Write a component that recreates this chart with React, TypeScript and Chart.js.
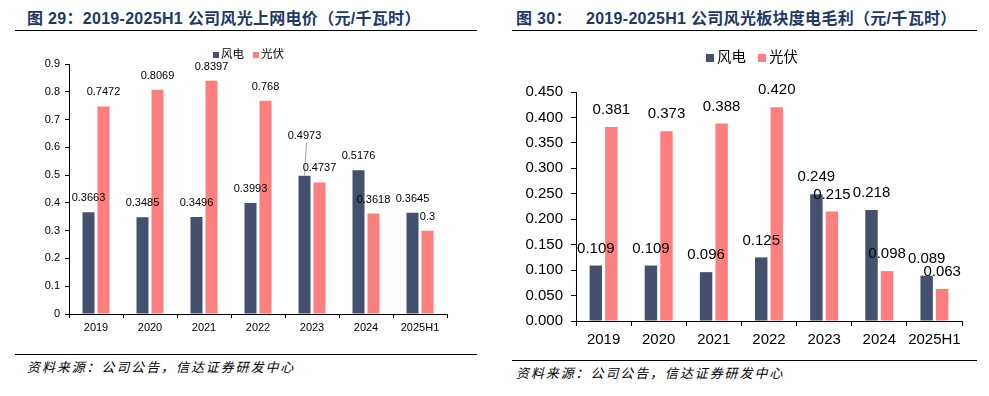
import React, { useEffect, useRef } from 'react';
import { Chart, registerables } from 'chart.js';

Chart.register(...registerables);

// ---------- data ----------
const categories = ['2019', '2020', '2021', '2022', '2023', '2024', '2025H1'];
const seriesNames = ['风电', '光伏'];
const windPrice = [0.3663, 0.3485, 0.3496, 0.3993, 0.4973, 0.5176, 0.3645];
const solarPrice = [0.7472, 0.8069, 0.8397, 0.768, 0.4737, 0.3618, 0.3];
const windMargin = [0.109, 0.109, 0.096, 0.125, 0.249, 0.218, 0.089];
const solarMargin = [0.381, 0.373, 0.388, 0.42, 0.215, 0.098, 0.063];
const priceTicks = [0, 0.1, 0.2, 0.3, 0.4, 0.5, 0.6, 0.7, 0.8, 0.9];
const marginTicks = [0, 0.05, 0.1, 0.15, 0.2, 0.25, 0.3, 0.35, 0.4, 0.45];

const leftTitle = '图 29：2019-2025H1 公司风光上网电价（元/千瓦时）';
const rightTitle = '图 30：\u00a0\u00a0 2019-2025H1 公司风光板块度电毛利（元/千瓦时）';
const sourceText = '资料来源：公司公告，信达证券研发中心';

// ---------- styles ----------
const NAVY = '#45506F';
const PINK = '#FF7F7F';
const FONT = '"Liberation Sans", Arial, "Noto Sans CJK SC", sans-serif';
const TITLE_COLOR = '#1F3864';

type Panel = {
  left: number; top: number; w: number; h: number;
  area: { l: number; r: number; t: number; b: number };
  wind: number[]; solar: number[]; ticks: number[];
  tickFmt: (v: number) => string; labelFmt: (v: number) => string;
  tickSize: number; labelSize: number; labelGap: number;
  yPad: number; xPad: number; tickLen: number;
  cat: number; bar: number;
  legend: { x: number; y: number; size: number; box: number; textGap: number; itemGap: number };
  lifts: { dataset: number; index: number; px: number }[];
};

function makeLabelPlugin(p: Panel) {
  return {
    id: 'valueLabels',
    afterDatasetsDraw(chart: any) {
      const ctx = chart.ctx;
      ctx.save();
      ctx.font = `${p.labelSize}px ${FONT}`;
      ctx.fillStyle = '#000';
      ctx.textAlign = 'center';
      ctx.textBaseline = 'middle';
      chart.data.datasets.forEach((ds: any, di: number) => {
        const meta = chart.getDatasetMeta(di);
        meta.data.forEach((bar: any, i: number) => {
          const lift = p.lifts.find((l) => l.dataset === di && l.index === i);
          const extra = lift ? lift.px : 0;
          const y = bar.y - p.labelGap - extra;
          ctx.fillText(p.labelFmt(ds.data[i]), bar.x, y);
          if (lift) {
            ctx.strokeStyle = '#A6A6A6';
            ctx.lineWidth = 1;
            ctx.beginPath();
            ctx.moveTo(bar.x + 2, y + p.labelSize / 2 + 1);
            ctx.lineTo(bar.x, bar.y);
            ctx.stroke();
          }
        });
      });
      ctx.restore();
    },
  };
}

function makeLegendPlugin(p: Panel) {
  return {
    id: 'miniLegend',
    afterDraw(chart: any) {
      const ctx = chart.ctx;
      const L = p.legend;
      ctx.save();
      ctx.font = `${L.size}px ${FONT}`;
      ctx.textBaseline = 'middle';
      ctx.textAlign = 'left';
      let x = L.x;
      chart.data.datasets.forEach((ds: any) => {
        ctx.fillStyle = ds.backgroundColor;
        ctx.fillRect(x, L.y - L.box / 2, L.box, L.box);
        x += L.box + L.textGap;
        ctx.fillStyle = '#000';
        ctx.fillText(ds.label, x, L.y);
        x += ctx.measureText(ds.label).width + L.itemGap;
      });
      ctx.restore();
    },
  };
}

function BarPanel({ p }: { p: Panel }) {
  const ref = useRef<HTMLCanvasElement>(null);
  useEffect(() => {
    const slot = (p.bar / 0.8) * 2;
    const catPct = slot / p.cat;
    const chart = new Chart(ref.current as HTMLCanvasElement, {
      type: 'bar',
      data: {
        labels: categories,
        datasets: [
          { label: seriesNames[0], data: p.wind, backgroundColor: NAVY, categoryPercentage: catPct, barPercentage: 0.8 },
          { label: seriesNames[1], data: p.solar, backgroundColor: PINK, categoryPercentage: catPct, barPercentage: 0.8 },
        ],
      },
      options: {
        responsive: false,
        animation: false,
        devicePixelRatio: 1,
        layout: { padding: { left: 0, top: p.area.t, right: p.w - p.area.r, bottom: 0 } },
        plugins: { legend: { display: false }, tooltip: { enabled: false } },
        scales: {
          x: {
            offset: true,
            grid: { display: true, offset: true, drawOnChartArea: false, drawTicks: true, tickLength: p.tickLen, color: '#000' },
            border: { display: true, color: '#000', width: 1 },
            ticks: { color: '#000', font: { family: FONT, size: p.tickSize }, padding: p.xPad, maxRotation: 0, autoSkip: false },
            afterFit: (s: any) => { s.height = p.h - p.area.b; },
          },
          y: {
            min: p.ticks[0],
            max: p.ticks[p.ticks.length - 1],
            afterBuildTicks: (s: any) => { s.ticks = p.ticks.map((v) => ({ value: v })); },
            grid: { display: true, drawOnChartArea: false, drawTicks: true, tickLength: p.tickLen, color: '#000' },
            border: { display: true, color: '#000', width: 1 },
            ticks: { color: '#000', font: { family: FONT, size: p.tickSize }, padding: p.yPad, callback: (v: any) => p.tickFmt(Number(v)) },
            afterFit: (s: any) => { s.width = p.area.l; },
          },
        },
      },
      plugins: [makeLabelPlugin(p), makeLegendPlugin(p)],
    } as any);
    return () => chart.destroy();
  }, []);
  return (
    <canvas
      ref={ref}
      width={p.w}
      height={p.h}
      style={{ position: 'absolute', left: p.left, top: p.top, width: p.w, height: p.h }}
    />
  );
}

const leftPanel: Panel = {
  left: 0, top: 40, w: 494, h: 305,
  area: { l: 69, r: 447, t: 24, b: 274 },
  wind: windPrice, solar: solarPrice, ticks: priceTicks,
  tickFmt: (v) => String(Number(v.toFixed(1))),
  labelFmt: (v) => String(v),
  tickSize: 11, labelSize: 11, labelGap: 14,
  yPad: 5, xPad: 3, tickLen: 4,
  cat: 54, bar: 12,
  legend: { x: 213, y: 15, size: 11.5, box: 6, textGap: 2, itemGap: 9 },
  lifts: [{ dataset: 0, index: 4, px: 26 }],
};

const rightPanel: Panel = {
  left: 494, top: 40, w: 495, h: 315,
  area: { l: 82, r: 468, t: 52, b: 281 },
  wind: windMargin, solar: solarMargin, ticks: marginTicks,
  tickFmt: (v) => v.toFixed(3),
  labelFmt: (v) => v.toFixed(3),
  tickSize: 15, labelSize: 15, labelGap: 17,
  yPad: 8, xPad: 5, tickLen: 5,
  cat: 55, bar: 12.4,
  legend: { x: 212, y: 18, size: 14.5, box: 8, textGap: 3, itemGap: 12 },
  lifts: [],
};

const titleStyle: React.CSSProperties = {
  position: 'absolute', top: 8, fontFamily: '"Liberation Sans", Arial, "Noto Sans CJK SC", sans-serif',
  fontWeight: 'bold', fontSize: 16, letterSpacing: 0.3, color: TITLE_COLOR, whiteSpace: 'pre', lineHeight: '22px',
};
const sourceStyle: React.CSSProperties = {
  position: 'absolute', fontFamily: '"Noto Sans CJK SC", sans-serif', fontStyle: 'italic',
  fontSize: 13, letterSpacing: 1.9, color: '#000', whiteSpace: 'pre', lineHeight: '16px',
};
const rule = (left: number, top: number, width: number): React.CSSProperties => ({
  position: 'absolute', left, top, width, height: 0, borderTop: '1.5px solid #000',
});

export default function App() {
  return (
    <div style={{ position: 'absolute', left: 0, top: 0, width: 989, height: 396, background: '#fff', overflow: 'hidden' }}>
      <div style={{ ...titleStyle, left: 27 }}>{leftTitle}</div>
      <div style={{ ...titleStyle, left: 516 }}>{rightTitle}</div>
      <div style={rule(15, 30, 462)} />
      <div style={rule(512, 30, 465)} />
      <BarPanel p={leftPanel} />
      <BarPanel p={rightPanel} />
      <div style={rule(15, 354, 462)} />
      <div style={rule(512, 360, 465)} />
      <div style={{ ...sourceStyle, left: 27, top: 359 }}>{sourceText}</div>
      <div style={{ ...sourceStyle, left: 516, top: 365 }}>{sourceText}</div>
    </div>
  );
}
